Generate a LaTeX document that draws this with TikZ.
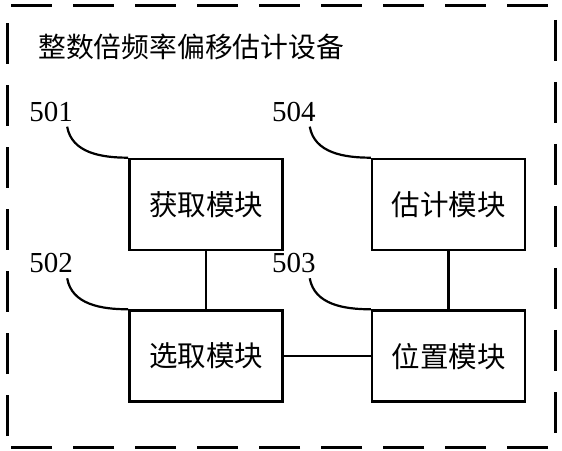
\documentclass[tikz,border=0pt]{standalone}
\usepackage{fontspec}
\setmainfont{Liberation Serif}
\newfontfamily\cjk{Noto Sans CJK SC}
\usetikzlibrary{positioning}
\tikzset{
  module/.style={draw,line width=2.6pt,minimum width=153pt,minimum height=91pt,
    inner sep=0pt,font=\cjk\fontsize{28.5}{31}\selectfont},
  tag/.style={inner sep=0pt,font=\fontsize{29}{32}\selectfont},
  lead/.style={line width=2.2pt},
  link/.style={line width=2.6pt}
}

\begin{document}
\begin{tikzpicture}[x=1pt,y=1pt]
  \useasboundingbox (0,0) rectangle (562,450);
  \draw[line width=3pt,dash pattern=on 41pt off 21pt,dash phase=-11pt]
    (7,3) rectangle (555,444);

  \node[anchor=west,inner sep=0pt,font=\cjk\fontsize{27.8}{30}\selectfont]
    (title) at (38,403) {整数倍频率偏移估计设备};

  \node[module] (acq) at (206,245.5) {获取模块};
  \node[module,right=87pt of acq] (est) {估计模块};
  \node[module,below=58pt of acq] (sel) {选取模块};
  \node[module,below=58pt of est] (pos) {位置模块};

  \node[tag] (n501) at ([shift={(-77,46)}]acq.north west) {501};
  \node[tag] (n504) at ([shift={(-77,46)}]est.north west) {504};
  \node[tag] (n502) at ([shift={(-77,46)}]sel.north west) {502};
  \node[tag] (n503) at ([shift={(-77,46)}]pos.north west) {503};

  \draw[lead] ([shift={(-6,-5)}]n501.south east) to[out=-80,in=180] (acq.north west);
  \draw[lead] ([shift={(-6,-5)}]n504.south east) to[out=-80,in=180] (est.north west);
  \draw[lead] ([shift={(-6,-5)}]n502.south east) to[out=-80,in=180] (sel.north west);
  \draw[lead] ([shift={(-6,-5)}]n503.south east) to[out=-80,in=180] (pos.north west);

  \draw[link] (acq) -- (sel);
  \draw[link] (est) -- (pos);
  \draw[link] (sel) -- (pos);
\end{tikzpicture}
\end{document}
